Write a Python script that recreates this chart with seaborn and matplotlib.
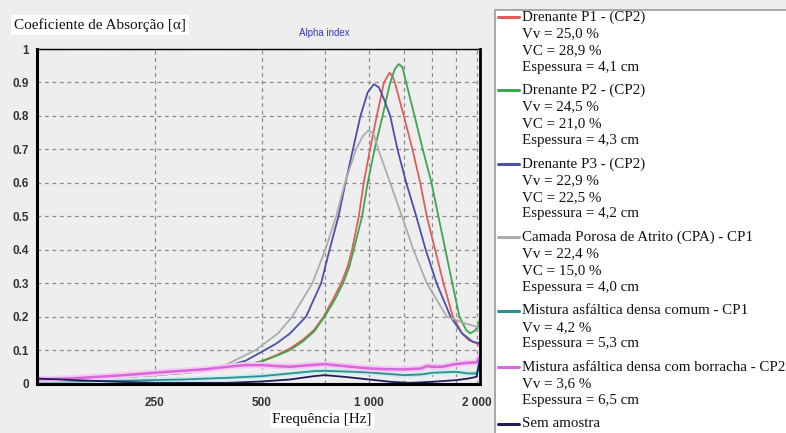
import matplotlib
matplotlib.use("Agg")
import matplotlib.pyplot as plt
import matplotlib.patheffects as pe
from matplotlib.lines import Line2D
from matplotlib.patches import Rectangle
import seaborn as sns
import pandas as pd

# ---------------- data ----------------
p1_freq = [117, 150, 200, 250, 300, 350, 400, 450, 500, 550, 600, 650, 700, 745, 790, 835, 870, 895, 935,
           965, 1005, 1050, 1100, 1140, 1160, 1180, 1250, 1322, 1390, 1450, 1530, 1615, 1715, 1820, 1900, 2000, 2040]
p1_vals = [0.010, 0.013, 0.018, 0.025, 0.031, 0.038, 0.046, 0.055, 0.067, 0.085, 0.105, 0.13, 0.16, 0.20, 0.25,
           0.30, 0.35, 0.40, 0.50, 0.60, 0.70, 0.80, 0.90, 0.929, 0.92, 0.90, 0.80, 0.70, 0.60, 0.50, 0.40, 0.30,
           0.20, 0.15, 0.13, 0.12, 0.115]

p2_freq = [117, 150, 200, 250, 300, 350, 400, 450, 500, 550, 600, 650, 700, 750, 800, 845, 880, 905, 955,
           990, 1035, 1090, 1145, 1180, 1210, 1240, 1269, 1340, 1413, 1495, 1563, 1635, 1710, 1790, 1870, 1920,
           1980, 2030, 2045]
p2_vals = [0.010, 0.013, 0.018, 0.025, 0.031, 0.038, 0.046, 0.055, 0.066, 0.083, 0.10, 0.125, 0.155, 0.20, 0.25,
           0.30, 0.35, 0.40, 0.50, 0.60, 0.70, 0.80, 0.90, 0.94, 0.955, 0.945, 0.90, 0.80, 0.70, 0.60, 0.50, 0.40,
           0.30, 0.20, 0.16, 0.15, 0.158, 0.175, 0.20]

p3_freq = [117, 150, 200, 250, 300, 350, 400, 450, 500, 550, 600, 665, 733, 774, 820, 858, 900, 945, 990,
           1030, 1065, 1100, 1145, 1200, 1270, 1355, 1440, 1545, 1690, 1820, 1950, 2040]
p3_vals = [0.012, 0.014, 0.02, 0.028, 0.035, 0.043, 0.053, 0.068, 0.095, 0.12, 0.15, 0.20, 0.30, 0.40, 0.50,
           0.60, 0.70, 0.80, 0.87, 0.895, 0.885, 0.85, 0.80, 0.70, 0.60, 0.50, 0.40, 0.30, 0.20, 0.15, 0.125, 0.12]

cpa_freq = [117, 150, 200, 250, 300, 350, 400, 480, 555, 608, 693, 753, 808, 855, 918, 960, 996, 1030,
            1060, 1145, 1235, 1330, 1450, 1650, 1850, 2000, 2040]
cpa_vals = [0.012, 0.015, 0.022, 0.035, 0.04, 0.046, 0.058, 0.10, 0.15, 0.20, 0.30, 0.40, 0.50, 0.60, 0.70,
            0.74, 0.757, 0.745, 0.70, 0.60, 0.50, 0.40, 0.30, 0.20, 0.18, 0.17, 0.165]

comum_freq = [117, 200, 300, 400, 500, 600, 700, 750, 850, 1000, 1250, 1400, 1500, 1750, 1900, 2000, 2040]
comum_vals = [0.005, 0.008, 0.012, 0.017, 0.022, 0.03, 0.037, 0.038, 0.036, 0.033, 0.025, 0.027, 0.032,
              0.035, 0.03, 0.03, 0.05]

borracha_freq = [117, 150, 200, 250, 300, 350, 400, 450, 500, 550, 600, 650, 750, 850, 1000, 1100, 1250,
                 1400, 1450, 1500, 1600, 1750, 1900, 2000, 2040]
borracha_vals = [0.012, 0.016, 0.024, 0.032, 0.038, 0.043, 0.05, 0.055, 0.055, 0.052, 0.05, 0.053, 0.058,
                 0.052, 0.045, 0.043, 0.042, 0.045, 0.052, 0.05, 0.05, 0.058, 0.062, 0.063, 0.08]

sem_freq = [117, 150, 200, 250, 400, 500, 600, 700, 750, 850, 1000, 1150, 1300, 1500, 1750, 1900, 2000, 2040]
sem_vals = [0.015, 0.01, 0.005, 0.002, 0.002, 0.006, 0.012, 0.022, 0.025, 0.02, 0.012, 0.005, 0.002, 0.005,
            0.01, 0.015, 0.02, 0.07]

series_names = ["Drenante P1", "Drenante P2", "Drenante P3", "CPA", "Mistura comum", "Mistura borracha",
                "Sem amostra"]
series_colors = ["#e25c5c", "#3fa64f", "#4b50a8", "#acacac", "#2f8f8f", "#d868d8", "#1e1e5c"]

legend_blocks = [
    ["Drenante P1 - (CP2)", "Vv = 25,0 %", "VC = 28,9 %", "Espessura = 4,1 cm"],
    ["Drenante P2 - (CP2)", "Vv = 24,5 %", "VC = 21,0 %", "Espessura = 4,3 cm"],
    ["Drenante P3 - (CP2)", "Vv = 22,9 %", "VC = 22,5 %", "Espessura = 4,2 cm"],
    ["Camada Porosa de Atrito (CPA) - CP1", "Vv = 22,4 %", "VC = 15,0 %", "Espessura = 4,0 cm"],
    ["Mistura asfáltica densa comum - CP1", "Vv = 4,2 %", "Espessura = 5,3 cm"],
    ["Mistura asfáltica densa com borracha - CP2", "Vv = 3,6 %", "Espessura = 6,5 cm"],
    ["Sem amostra"],
]

x_major = [250, 500, 1000, 2000]
x_major_labels = ["250", "500", "1 000", "2 000"]
x_minor = [750, 1250, 1500, 1750]
y_ticks = [0, 0.1, 0.2, 0.3, 0.4, 0.5, 0.6, 0.7, 0.8, 0.9, 1]
y_labels = ["0", "0.1", "0.2", "0.3", "0.4", "0.5", "0.6", "0.7", "0.8", "0.9", "1"]

# ---------------- build long table ----------------
frames = []
for name, f, v in zip(series_names,
                      [p1_freq, p2_freq, p3_freq, cpa_freq, comum_freq, borracha_freq, sem_freq],
                      [p1_vals, p2_vals, p3_vals, cpa_vals, comum_vals, borracha_vals, sem_vals]):
    frames.append(pd.DataFrame({"freq": f, "alpha": v, "serie": name}))
df = pd.concat(frames, ignore_index=True)

sns.set_style("white")
plt.rcParams["font.family"] = ["Liberation Sans", "DejaVu Sans"]

W, H = 786, 433
BG = "#eeeeee"
fig = plt.figure(figsize=(W / 100, H / 100), dpi=100, facecolor=BG)
ax_l, ax_r, ax_t, ax_b = 37, 480, 49, 383.5
ax = fig.add_axes([ax_l / W, 1 - ax_b / H, (ax_r - ax_l) / W, (ax_b - ax_t) / H])
ax.set_facecolor(BG)

palette = dict(zip(series_names, series_colors))
sns.lineplot(data=df, x="freq", y="alpha", hue="serie", hue_order=series_names, palette=palette,
             estimator=None, legend=False, ax=ax, linewidth=1.3)

for line in ax.lines:
    c = matplotlib.colors.to_hex(line.get_color())
    if c == "#d868d8":
        line.set_linewidth(1.8)
        line.set_path_effects([pe.Stroke(linewidth=4.5, foreground="#f6c8f6"), pe.Normal()])
    elif c == "#2f8f8f":
        line.set_path_effects([pe.Stroke(linewidth=3.5, foreground="#c6ecec"), pe.Normal()])

ax.set_xscale("log")
ax.set_xlim(117, 2045)
ax.set_ylim(0, 1)
ax.set_xticks(x_major)
ax.set_xticklabels(x_major_labels)
ax.set_xticks(x_minor, minor=True)
ax.set_xticklabels([], minor=True)
ax.set_yticks(y_ticks)
ax.set_yticklabels(y_labels)
ax.tick_params(axis="both", which="both", direction="out", length=3, width=1, color="#555555",
               labelsize=8.5, labelcolor="#333333")
ax.tick_params(axis="x", which="major", pad=7)
ax.tick_params(axis="y", which="major", pad=3)
for lab in ax.get_xticklabels() + ax.get_yticklabels():
    lab.set_fontweight("bold")
ax.set_xlabel("")
ax.set_ylabel("")

ax.grid(True, which="both", axis="x", linestyle=(0, (3, 3)), color="#8a8a8a", linewidth=0.9)
ax.grid(True, which="major", axis="y", linestyle=(0, (3, 3)), color="#8a8a8a", linewidth=0.9)
ax.set_axisbelow(True)

for side, lw in [("left", 2.2), ("bottom", 2.2), ("top", 1.0), ("right", 2.0)]:
    ax.spines[side].set_visible(True)
    ax.spines[side].set_color("#000000")
    ax.spines[side].set_linewidth(lw)

# titles
fig.text(14 / W, 1 - 25 / H, "Coeficiente de Absorção [α]", family="Liberation Serif", fontsize=11,
         ha="left", va="center", color="#111111",
         bbox=dict(facecolor="white", edgecolor="none", pad=2))
fig.text(324 / W, 1 - 33 / H, "Alpha index", fontsize=7, color="#3b3bb8", ha="center", va="center")
fig.text(322 / W, 1 - 419 / H, "Frequência [Hz]", family="Liberation Serif", fontsize=11,
         ha="center", va="center", color="#111111",
         bbox=dict(facecolor="white", edgecolor="none", pad=2))

# legend panel
fig.patches.append(Rectangle((495 / W, -0.01), (W - 495 + 5) / W, 1 - 10 / H + 0.01,
                             transform=fig.transFigure, facecolor="white", edgecolor="#9a9a9a",
                             linewidth=1.2))
line_h = 16.7
y = 17.0
for block, col in zip(legend_blocks, series_colors):
    fig.lines.append(Line2D([498 / W, 519 / W], [1 - y / H, 1 - y / H], transform=fig.transFigure,
                            color=col, linewidth=2.2))
    for i, txt in enumerate(block):
        fig.text(522 / W, 1 - (y + i * line_h) / H, txt, family="Liberation Serif", fontsize=10.8,
                 ha="left", va="center", color="#111111")
    y += len(block) * line_h + 6.6

fig.savefig("out.png", dpi=100, facecolor=BG)
